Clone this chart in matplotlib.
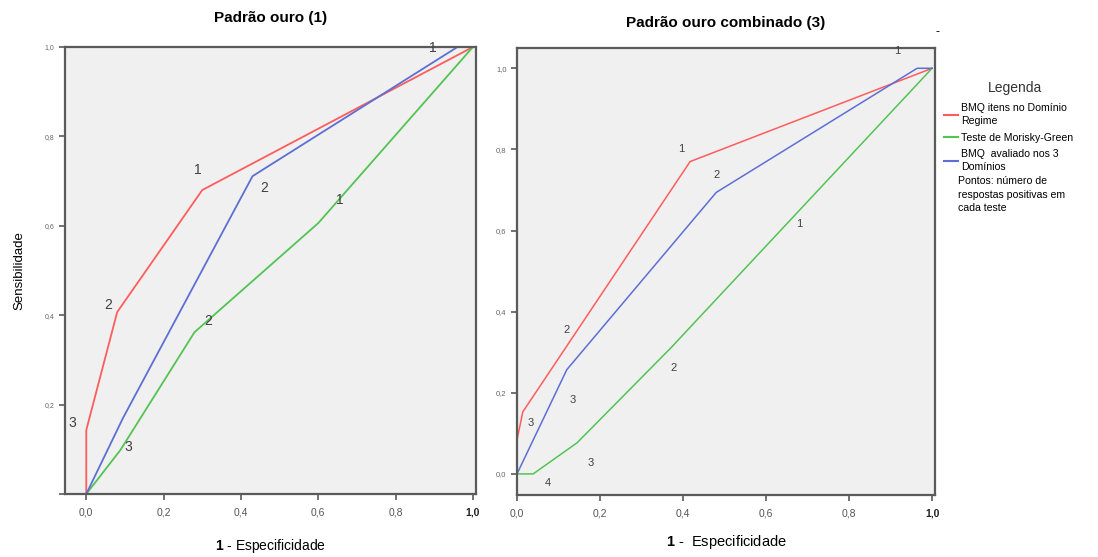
import matplotlib
matplotlib.use("Agg")
import matplotlib.pyplot as plt
from matplotlib.lines import Line2D

plt.rcParams['font.family'] = ['Liberation Sans', 'DejaVu Sans']
plt.rcParams['mathtext.fontset'] = 'custom'
plt.rcParams['mathtext.bf'] = 'Liberation Sans:bold'
plt.rcParams['mathtext.rm'] = 'Liberation Sans'

# ---- data: left panel "Padrão ouro (1)" ----
L_red_x = [0.0, 0.0, 0.08, 0.30, 1.0]
L_red_y = [0.0, 0.143, 0.407, 0.68, 1.0]
L_green_x = [0.0, 0.088, 0.28, 0.60, 1.0]
L_green_y = [0.0, 0.098, 0.362, 0.606, 1.0]
L_blue_x = [0.0, 0.095, 0.43, 0.96, 1.0]
L_blue_y = [0.0, 0.17, 0.711, 1.0, 1.0]
L_lab_text = ["1", "1", "2", "1", "2", "2", "3", "3"]
L_lab_x = [0.897, 0.289, 0.46, 0.656, 0.057, 0.315, -0.036, 0.109]
L_lab_y = [0.998, 0.725, 0.685, 0.658, 0.423, 0.387, 0.159, 0.105]

# ---- data: right panel "Padrão ouro combinado (3)" ----
R_red_x = [0.0, 0.0, 0.014, 0.417, 1.0]
R_red_y = [0.0, 0.084, 0.153, 0.77, 1.0]
R_green_x = [0.0, 0.039, 0.145, 0.37, 1.0]
R_green_y = [0.0, 0.0, 0.077, 0.31, 1.0]
R_blue_x = [0.0, 0.12, 0.48, 0.964, 1.0]
R_blue_y = [0.0, 0.257, 0.694, 1.0, 1.0]
R_lab_text = ["1", "1", "2", "1", "2", "3", "3", "2", "3", "4"]
R_lab_x = [0.916, 0.395, 0.48, 0.68, 0.12, 0.034, 0.133, 0.376, 0.178, 0.075]
R_lab_y = [1.042, 0.80, 0.738, 0.615, 0.356, 0.126, 0.183, 0.262, 0.027, -0.022]

x_ticks = [0.0, 0.2, 0.4, 0.6, 0.8, 1.0]
x_ticklabels = ["0,0", "0,2", "0,4", "0,6", "0,8", "1,0"]
L_y_ticks = [0.0, 0.2, 0.4, 0.6, 0.8, 1.0]
L_y_ticklabels = ["", "0,2", "0,4", "0,6", "0,8", "1,0"]
R_y_ticks = [0.0, 0.2, 0.4, 0.6, 0.8, 1.0]
R_y_ticklabels = ["0,0", "0,2", "0,4", "0,6", "0,8", "1,0"]

legend_labels = ["BMQ itens no Domínio\nRegime", "Teste de Morisky-Green",
                 "BMQ  avaliado nos 3\nDomínios"]

RED = '#ff5c5c'
GREEN = '#52c452'
BLUE = '#5c6fd4'
TXT = '#404040'

fig = plt.figure(figsize=(10.98, 5.57), dpi=100)
fig.patch.set_facecolor('white')

W, H = 1098, 557
axL = fig.add_axes([65 / W, 1 - 494 / H, 411 / W, 447 / H])
axR = fig.add_axes([517 / W, 1 - 495 / H, 418 / W, 447 / H])

def style(ax):
    ax.set_facecolor('#f0f0f0')
    for s in ax.spines.values():
        s.set_color('#5a5a5a')
        s.set_linewidth(1.6)
    ax.tick_params(axis='both', direction='out', length=4, width=1.2, color='#5a5a5a')
    ax.tick_params(axis='x', pad=6)
    ax.set_xticks(x_ticks)
    ax.set_xticklabels(x_ticklabels, fontsize=7.5, color='#555555')
    ax.get_xticklabels()[-1].set_fontweight('bold')
    ax.get_xticklabels()[-1].set_color('#222222')

# Left
style(axL)
axL.plot(L_red_x, L_red_y, color=RED, lw=1.3)
axL.plot(L_green_x, L_green_y, color=GREEN, lw=1.3)
axL.plot(L_blue_x, L_blue_y, color=BLUE, lw=1.3)
for t, x, y in zip(L_lab_text, L_lab_x, L_lab_y):
    axL.text(x, y, t, fontsize=10, color=TXT, ha='center', va='center')
axL.set_xlim(-0.055, 1.008)
axL.set_ylim(0.0, 1.0)
axL.set_yticks(L_y_ticks)
axL.set_yticklabels(L_y_ticklabels, fontsize=5, color='#666666')
axL.set_title("Padrão ouro (1)", fontsize=11, fontweight='bold', pad=18)
axL.set_ylabel("Sensibilidade", fontsize=9.5, labelpad=14)
axL.set_xlabel(r"$\mathbf{1}$ - Especificidade", fontsize=10, labelpad=14)

# Right
style(axR)
axR.plot(R_red_x, R_red_y, color=RED, lw=1.1)
axR.plot(R_green_x, R_green_y, color=GREEN, lw=1.1)
axR.plot(R_blue_x, R_blue_y, color=BLUE, lw=1.1)
for t, x, y in zip(R_lab_text, R_lab_x, R_lab_y):
    axR.text(x, y, t, fontsize=8, color=TXT, ha='center', va='center')
axR.set_xlim(0.0, 1.007)
axR.set_ylim(-0.052, 1.05)
axR.set_yticks(R_y_ticks)
axR.set_yticklabels(R_y_ticklabels, fontsize=5.5, color='#666666')
axR.set_title("Padrão ouro combinado (3)", fontsize=11, fontweight='bold', pad=15)
axR.set_xlabel(r"$\mathbf{1}$ -  Especificidade", fontsize=10.5, labelpad=10)

fig.text(938 / W, 1 - 32 / H, "-", fontsize=9, ha='center', va='center')

fig.text(1015 / W, 1 - 88 / H, "Legenda", fontsize=10, color='#333333',
         ha='center', va='center')
handles = [Line2D([], [], color=RED, lw=1.5),
           Line2D([], [], color=GREEN, lw=1.5),
           Line2D([], [], color=BLUE, lw=1.5)]
leg = fig.legend(handles, legend_labels, loc='upper left',
                 bbox_to_anchor=(944 / W, 1 - 103 / H), frameon=False,
                 fontsize=7.6, handlelength=1.3, handletextpad=0.3,
                 labelspacing=0.62, borderaxespad=0, borderpad=0)
for t in leg.get_texts():
    t.set_linespacing(1.4)
fig.text(958 / W, 1 - 176 / H, "Pontos: número de\nrespostas positivas em\ncada teste",
         fontsize=7.6, ha='left', va='top', linespacing=1.45)

fig.savefig("out.png", dpi=100)
